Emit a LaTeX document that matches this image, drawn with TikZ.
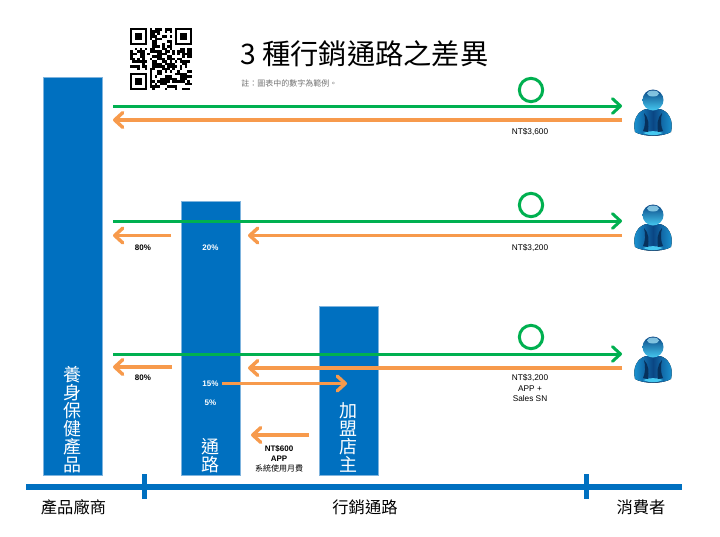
\documentclass[tikz,border=0pt]{standalone}
\usepackage{fontspec}
\setmainfont{Liberation Sans}
\newfontfamily\cjk{Noto Sans CJK TC}
\usepackage{tikz}
\usetikzlibrary{arrows.meta, positioning, calc}
\definecolor{barblue}{HTML}{0070C0}
\definecolor{edgeblue}{HTML}{7FB4DE}
\definecolor{mygreen}{HTML}{00B050}
\definecolor{myorange}{HTML}{F79A4C}
\definecolor{headlight}{HTML}{A5E4F8}
\definecolor{headmid}{HTML}{1C9AD8}
\definecolor{headglow}{HTML}{45C8F0}
\definecolor{headdark}{HTML}{0A4684}
\tikzset{
  bar/.style={rectangle, draw=edgeblue, line width=0.4pt, fill=barblue,
              minimum width=44.25pt, anchor=south, inner sep=0pt},
  bartext/.style={text=white, font=\cjk\fontsize{13.5}{13.5}\selectfont,
                  align=center, anchor=south, inner sep=0pt},
  greenarrow/.style={-{Straight Barb[length=6pt,width=11pt,round]}, line width=2.25pt, draw=mygreen},
  orangearrow/.style={-{Straight Barb[length=6pt,width=11pt,round]}, line width=2.6pt, draw=myorange},
  okmark/.style={circle, draw=mygreen, line width=2.25pt, minimum size=17.5pt, inner sep=0pt},
  price/.style={font=\fontsize{6.2}{7.6}\selectfont, align=center, inner sep=0pt},
  pct/.style={font=\bfseries\fontsize{6}{7.6}\selectfont, inner sep=0pt},
  pctw/.style={pct, text=white},
  axislabel/.style={font=\cjk\fontsize{12.2}{14}\selectfont, inner sep=0pt},
  usericon/.pic={
    % body
    \fill[left color=headmid, right color=headmid, middle color=headdark]
      (-18,32) .. controls (-21,20) and (-15,11) .. (-7,9)
      -- (7,9) .. controls (15,11) and (21,20) .. (18,32)
      .. controls (10,37) and (-10,37) .. (-18,32) -- cycle;
    \fill[headglow] (-10,33) .. controls (-4,36) and (4,36) .. (10,33)
      .. controls (4,30.5) and (-4,30.5) .. (-10,33) -- cycle;
    \fill[headdark!70!black] (-9,13) .. controls (-7,20) and (-8,27) .. (-10,31)
      -- (-5,32) .. controls (-4,25) and (-4,18) .. (-9,13) -- cycle;
    \fill[headdark!70!black] (9,13) .. controls (7,20) and (8,27) .. (10,31)
      -- (5,32) .. controls (4,25) and (4,18) .. (9,13) -- cycle;
    % head
    \shade[top color=headdark, bottom color=headglow] (0,0) circle[radius=10.5];
    \fill[headlight, opacity=.75] (0,-6.5) ellipse[x radius=6, y radius=3];
  },
}

\begin{document}
\begin{tikzpicture}[x=0.75pt, y=-0.75pt]
  \useasboundingbox (0,0) rectangle (720,536);

  % QR code
  \pgfmathsetseed{4711}
  \begin{scope}[shift={(130,28)}, x=1.86pt, y=-1.86pt]
    \foreach \i in {0,...,24} \foreach \j in {0,...,24} {
      \pgfmathparse{(\i<8 && \j<8) || (\i>16 && \j<8) || (\i<8 && \j>16) ? 0 : (rnd>0.5 ? 1 : 0)}
      \pgfmathtruncatemacro{\cellon}{\pgfmathresult}
      \ifnum\cellon=1
        \fill[black] (\i,\j) rectangle ++(1.02,1.02);
      \fi
    }
    \foreach \a/\b in {0/0, 18/0, 0/18} {
      \draw[black, line width=1.86pt] (\a+.5,\b+.5) rectangle ++(6,6);
      \fill[black] (\a+2,\b+2) rectangle ++(3,3);
    }
  \end{scope}

  % Title
  \node[anchor=west, inner sep=0pt, font=\cjk\fontsize{21.2}{24}\selectfont] (title) at (240,54) {3 種行銷通路之差異};
  \node[anchor=west, inner sep=0pt, text=black!55, font=\cjk\fontsize{6}{7}\selectfont] (remark) at (241,83) {註：圖表中的數字為範例。};

  % Bars
  \node[bar, minimum height=298.5pt] (maker)   at (72.5,476)  {};
  \node[bar, minimum height=205.5pt] (channel) at (210.5,476) {};
  \node[bar, minimum height=126.75pt] (shop)   at (348.5,476) {};
  \node[bartext] (makertext)   at (72.5,473)  {養\\身\\保\\健\\產\\品};
  \node[bartext] (channeltext) at (210.5,473) {通\\路};
  \node[bartext] (shoptext)    at (348.5,473) {加\\盟\\店\\主};

  % Row 1
  \coordinate (gA1) at (113,106);  \coordinate (gA2) at (622,106);
  \coordinate (oA1) at (622,120);  \coordinate (oA2) at (113,120);
  \draw[greenarrow] (gA1) -- (gA2);
  \draw[orangearrow] (oA1) -- (oA2);
  \node[okmark] (okA) at (531,90) {};
  \node[price] (priceA) at (530,132) {NT\$3,600};
  \pic at (653,100) {usericon};

  % Row 2
  \coordinate (gB1) at (113,221);  \coordinate (gB2) at (622,221);
  \coordinate (oB1) at (171,235.5); \coordinate (oB2) at (113,235.5);
  \coordinate (oB3) at (622,235.5); \coordinate (oB4) at (248,235.5);
  \draw[greenarrow] (gB1) -- (gB2);
  \draw[orangearrow] (oB1) -- (oB2);
  \draw[orangearrow] (oB3) -- (oB4);
  \node[okmark] (okB) at (531,205) {};
  \node[pct]  (cutB) at (143,248) {80\%};
  \node[pctw] (feeB) at (210.5,248) {20\%};
  \node[price] (priceB) at (530,248) {NT\$3,200};
  \pic at (653,215) {usericon};

  % Row 3
  \coordinate (gC1) at (113,354);  \coordinate (gC2) at (622,354);
  \coordinate (oC1) at (172,367);  \coordinate (oC2) at (113,367);
  \coordinate (oC3) at (622,368);  \coordinate (oC4) at (248,368);
  \coordinate (oC5) at (222,383.5); \coordinate (oC6) at (347,383.5);
  \coordinate (oC7) at (309,435);  \coordinate (oC8) at (251,435);
  \draw[greenarrow] (gC1) -- (gC2);
  \draw[orangearrow] (oC1) -- (oC2);
  \draw[orangearrow] (oC3) -- (oC4);
  \draw[orangearrow] (oC5) -- (oC6);
  \draw[orangearrow] (oC7) -- (oC8);
  \node[okmark] (okC) at (531,337) {};
  \node[pct]  (cutC)   at (143,378) {80\%};
  \node[pctw] (feeC)   at (210.5,384) {15\%};
  \node[pctw] (feeD)   at (210.5,403) {5\%};
  \node[price] (priceC) at (530,388) {NT\$3,200\\APP +\\Sales SN};
  \node[price, font=\bfseries\fontsize{6}{7.6}\selectfont] (appfee) at (279,459)
    {NT\$600\\APP\\{\cjk\mdseries 系統使用月費}};
  \pic at (653,347) {usericon};

  % Axis
  \coordinate (axisL) at (26,487);  \coordinate (axisR) at (682,487);
  \coordinate (tickA1) at (144,474); \coordinate (tickA2) at (144,499);
  \coordinate (tickB1) at (586,474); \coordinate (tickB2) at (586,499);
  \draw[barblue, line width=4.5pt] (axisL) -- (axisR);
  \draw[barblue, line width=3.75pt] (tickA1) -- (tickA2);
  \draw[barblue, line width=3.75pt] (tickB1) -- (tickB2);
  \node[axislabel] (labmaker)   at (73.5,507) {產品廠商};
  \node[axislabel] (labchannel) at (365,507)  {行銷通路};
  \node[axislabel] (labuser)    at (641,507)  {消費者};

\end{tikzpicture}
\end{document}
